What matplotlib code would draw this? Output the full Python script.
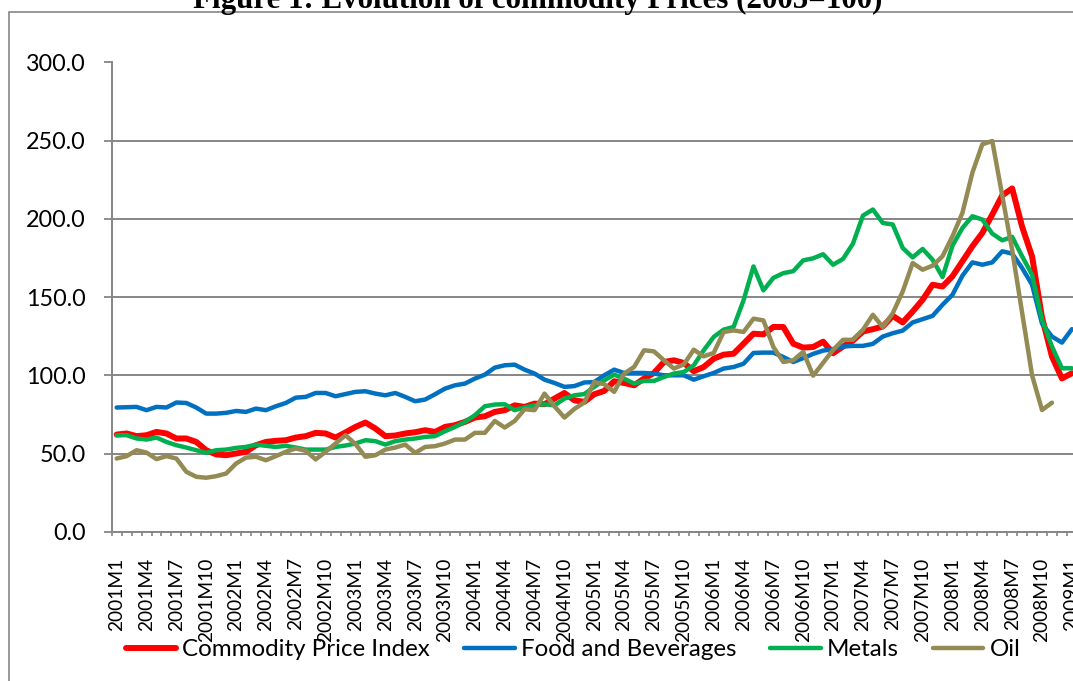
import matplotlib
matplotlib.use("Agg")
import matplotlib.pyplot as plt
from matplotlib.patches import Rectangle
from matplotlib.ticker import FixedLocator, FuncFormatter
import numpy as np

# ---------------- data ----------------
years = list(range(2001, 2010))
categories = [f"{y}M{m}" for y in years for m in range(1, 13)][:97]  # 2001M1 .. 2009M1

commodity_index = [
    62.1, 62.8, 61.1, 61.7, 63.8, 62.8, 59.6, 59.6, 57.4, 52.1, 49.4, 48.9,
    50.0, 51.1, 55.3, 57.4, 58.1, 58.5, 60.2, 61.1, 63.2, 62.8, 60.2, 63.5,
    67.0, 69.8, 66.0, 61.1, 61.5, 62.8, 63.6, 64.9, 63.8, 67.0, 68.1, 70.2,
    73.0, 73.8, 76.6, 77.7, 80.8, 79.8, 81.9, 81.5, 85.1, 88.7, 84.0, 83.0,
    87.9, 90.0, 96.2, 95.1, 93.6, 97.9, 101.5, 108.5, 109.6, 107.9, 102.6, 105.3,
    110.6, 113.2, 113.8, 120.2, 126.6, 126.2, 130.9, 130.9, 120.2, 117.7, 118.1, 121.5,
    114.1, 118.4, 122.2, 128.0, 129.5, 131.2, 138.0, 133.8, 140.8, 148.3, 157.9, 156.8,
    163.3, 172.9, 182.5, 191.0, 202.8, 215.0, 219.5, 195.0, 176.0, 137.0, 112.0, 98.0,
    101.3,
]
food_beverages = [
    79.4, 79.6, 79.8, 77.7, 79.8, 79.4, 82.6, 82.3, 79.4, 75.5, 75.5, 76.0,
    77.2, 76.6, 78.7, 77.7, 80.2, 82.3, 85.7, 86.2, 88.7, 88.7, 86.6, 88.0,
    89.4, 89.8, 88.3, 87.2, 88.7, 86.2, 83.4, 84.5, 87.9, 91.5, 93.6, 94.7,
    97.9, 100.4, 104.9, 106.4, 106.8, 103.6, 101.1, 97.2, 95.1, 92.6, 93.1, 95.4,
    95.7, 100.0, 103.6, 101.5, 101.5, 101.5, 101.1, 100.0, 100.0, 100.0, 97.2, 99.4,
    101.5, 104.3, 105.3, 107.4, 114.3, 114.5, 114.5, 111.7, 108.5, 111.0, 113.7, 115.8,
    116.7, 118.4, 118.8, 118.8, 120.1, 124.8, 126.9, 128.6, 133.8, 135.9, 138.0, 145.1,
    151.5, 163.7, 172.2, 170.7, 172.2, 179.3, 177.8, 168.6, 157.9, 133.0, 124.8, 120.9,
    129.5,
]
metals = [
    61.7, 61.7, 59.6, 58.9, 60.2, 57.4, 55.3, 53.8, 52.1, 50.4, 52.1, 52.5,
    53.6, 54.2, 55.7, 54.9, 54.2, 54.9, 53.8, 52.5, 52.5, 52.5, 54.2, 55.1,
    56.4, 58.5, 57.9, 55.7, 57.9, 58.9, 59.6, 60.6, 61.1, 64.2, 67.0, 70.2,
    74.5, 80.2, 81.3, 81.5, 77.7, 79.4, 80.8, 81.5, 80.8, 85.1, 87.2, 88.0,
    92.6, 96.8, 100.4, 97.9, 94.7, 96.4, 96.4, 98.9, 101.1, 102.1, 106.4, 116.0,
    124.5, 129.2, 130.9, 147.9, 169.6, 154.3, 162.3, 165.3, 166.6, 173.5, 174.8, 177.4,
    170.7, 174.4, 184.2, 202.1, 206.0, 197.4, 196.4, 181.4, 175.4, 180.8, 173.9, 162.8,
    182.9, 194.2, 201.7, 199.6, 190.6, 186.3, 188.5, 176.1, 164.3, 135.5, 118.4, 104.5,
    104.5,
]
oil = [
    46.8, 48.3, 52.1, 50.6, 46.4, 48.3, 46.8, 38.3, 35.1, 34.5, 35.5, 37.2,
    43.6, 47.4, 47.9, 45.7, 48.3, 51.1, 53.2, 51.7, 46.2, 51.1, 56.4, 61.7,
    56.0, 47.9, 48.9, 52.5, 53.8, 55.7, 50.4, 54.2, 54.7, 56.4, 58.9, 58.9,
    63.2, 63.2, 70.8, 66.6, 70.8, 78.3, 77.7, 88.3, 80.2, 73.0, 78.5, 82.6,
    95.7, 94.3, 89.4, 101.1, 105.3, 116.0, 115.3, 109.6, 104.3, 107.0, 116.4, 112.1,
    114.3, 127.7, 128.7, 127.7, 136.2, 135.1, 118.1, 108.5, 109.6, 115.0, 99.8, 108.0,
    116.2, 122.7, 122.7, 129.1, 138.7, 130.8, 139.7, 153.6, 171.8, 167.5, 170.1, 176.1,
    188.9, 203.9, 229.5, 247.7, 249.8, 215.0, 180.0, 140.0, 100.0, 77.8, 82.5,
    None, None,
]

series_names = ["Commodity Price Index", "Food and Beverages", "Metals", "Oil"]
series_colors = ["#FF0000", "#0070C0", "#00B050", "#948A54"]
series_widths = [4.3, 3.2, 3.2, 3.2]
y_ticks = [0, 50, 100, 150, 200, 250, 300]
title = "Figure 1: Evolution of commodity Prices (2005=100)"

# ---------------- figure ----------------
W, H = 1073, 681
fig = plt.figure(figsize=(W / 100, H / 100), dpi=100)

ax_left, ax_right = 111.7, 111.7 + 97 * 9.95
ax_top, ax_bottom = 62.5, 531.7
ax = fig.add_axes([ax_left / W, 1 - ax_bottom / H,
                   (ax_right - ax_left) / W, (ax_bottom - ax_top) / H])

grid_color = "#868686"
x = np.arange(len(categories))
all_series = [commodity_index, food_beverages, metals, oil]
for vals, name, col, lw in zip(all_series, series_names, series_colors, series_widths):
    v = np.array([np.nan if q is None else q for q in vals], dtype=float)
    ax.plot(x, v, color=col, lw=lw, label=name,
            solid_joinstyle="round", solid_capstyle="round", zorder=3)

ax.set_xlim(-0.5, len(categories) - 0.5)
ax.set_ylim(0, 300)

# y axis
ax.set_yticks(y_ticks)
ax.yaxis.set_major_formatter(FuncFormatter(lambda v, p: f"{v:.1f}"))
ax.grid(axis="y", color=grid_color, lw=1.4, zorder=1)
ax.tick_params(axis="y", direction="out", length=6, width=1.3, color=grid_color,
               pad=12.5, labelsize=16.8, labelcolor="black")

# x axis
label_pos = x[::3]
ax.xaxis.set_major_locator(FixedLocator(label_pos))
ax.set_xticklabels([categories[i] for i in label_pos], rotation=90)
ax.xaxis.set_minor_locator(FixedLocator(np.arange(-0.5, len(categories) + 0.5, 1)))
ax.tick_params(axis="x", which="major", length=0, pad=18.5, labelsize=13.8,
               labelcolor="black")
ax.tick_params(axis="x", which="minor", direction="out", length=3, width=1.2,
               color=grid_color)

for s in ["top", "right"]:
    ax.spines[s].set_visible(False)
for s in ["left", "bottom"]:
    ax.spines[s].set_color(grid_color)
    ax.spines[s].set_linewidth(1.4)

for lbl in ax.get_xticklabels() + ax.get_yticklabels():
    lbl.set_family("Lato")

# legend
leg = fig.legend(loc="center", bbox_to_anchor=(573 / W, 1 - 650 / H), ncol=4,
                 frameon=False, prop={"family": "Lato", "size": 17.4},
                 handlelength=2.1, handletextpad=0.25, columnspacing=1.4,
                 borderaxespad=0, borderpad=0)

# outer chart border
fig.patches.append(Rectangle((9.3 / W, -0.05), 1.1, 1.05 - 12 / H,
                             transform=fig.transFigure, fill=False,
                             edgecolor=grid_color, lw=1.2, zorder=0))

# title (partially cut off at top)
fig.text(537.5 / W, 1 - 8 / H, title, ha="center", va="baseline",
         fontsize=22.3, fontweight="bold", family="Liberation Serif")

fig.savefig("out.png", dpi=100)
